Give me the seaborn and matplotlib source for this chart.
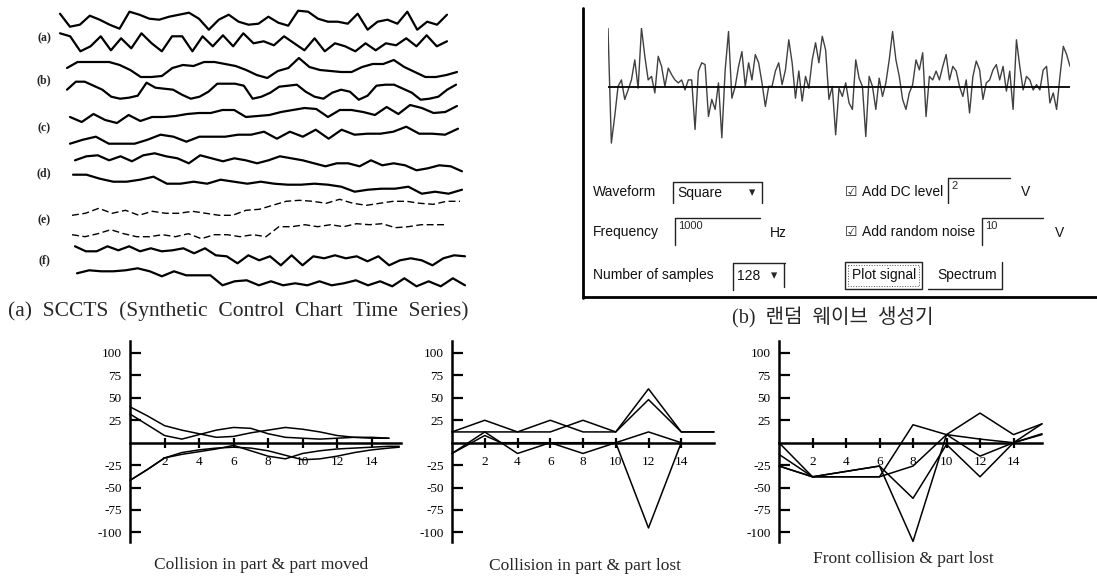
import numpy as np
import matplotlib
matplotlib.use("Agg")
import matplotlib.pyplot as plt
from matplotlib.patches import Rectangle
import seaborn as sns

# ---- data: (a) SCCTS sample series (two per class) ----
a1 = [18, 5, 7, 16, 12, 7, 3, 20, 17, 13, 12, 15, 17, 19, 13, 2, 12, 17, 10, 7,
      8, 15, 9, 6, 21, 20, 13, 10, 10, 8, 18, 2, 10, 12, 8, 20, 2, 10, 7, 17]
a2 = [20, 17, 2, 7, 17, 3, 15, 5, 20, 10, 2, 17, 17, 2, 17, 7, 18, 7, 20, 10,
      12, 8, 17, 10, 3, 15, 2, 10, 7, 2, 10, 3, 10, 8, 15, 7, 18, 7, 12]
b1 = [12, 18, 18, 18, 18, 15, 10, 3, 3, 4, 12, 15, 14, 18, 18, 16, 14, 10, 5, 2,
      9, 12, 22, 13, 10, 9, 8, 8, 13, 16, 16, 20, 13, 8, 3, 3, 5, 8]
b2 = [12, 20, 20, 16, 12, 5, 3, 4, 6, 19, 14, 13, 12, 7, 3, 5, 10, 18, 18, 18,
      16, 3, 5, 9, 15, 16, 17, 10, 5, 3, 9, 12, 10, 2, 6, 16, 17, 17, 13, 9,
      2, 3, 5, 12, 17]
c1 = [7, 2, 10, 4, 1, 9, 3, 7, 7, 8, 10, 11, 11, 14, 14, 7, 8, 9, 12, 14,
      16, 15, 7, 14, 14, 12, 9, 17, 10, 19, 16, 11, 12, 18]
c2 = [2, 6, 9, 2, 2, 2, 6, 11, 9, 4, 9, 9, 9, 11, 11, 14, 7, 14, 9, 16,
      7, 16, 11, 12, 12, 14, 19, 12, 12, 11, 17]
d1 = [13, 17, 18, 13, 17, 12, 18, 20, 17, 15, 10, 18, 15, 12, 15, 13, 10, 13, 17, 15,
      13, 10, 7, 10, 10, 7, 13, 8, 10, 8, 3, 5, 8, 7, 2]
d2 = [22, 22, 18, 15, 15, 17, 20, 13, 13, 15, 13, 17, 15, 13, 15, 13, 12, 12, 13, 12,
      10, 5, 7, 8, 8, 10, 3, 5, 3, 7]
e1 = [3, 5, 10, 5, 8, 3, 7, 5, 5, 7, 5, 3, 3, 8, 9, 13, 17, 18, 17, 15,
      19, 15, 13, 15, 17, 17, 15, 14, 17, 17]
e2 = [7, 5, 8, 12, 8, 5, 5, 7, 5, 8, 3, 7, 7, 5, 7, 5, 15, 15, 17, 15,
      17, 15, 18, 17, 18, 14, 15, 17, 17, 17]
f1 = [22, 17, 17, 22, 18, 22, 17, 20, 17, 18, 20, 15, 20, 13, 12, 5, 13, 8, 12, 3,
      13, 3, 12, 10, 13, 10, 12, 7, 12, 3, 8, 10, 8, 3, 10, 13, 12]
f2 = [15, 18, 17, 17, 18, 20, 17, 12, 17, 13, 13, 13, 3, 7, 8, 3, 7, 3, 5, 3,
      7, 3, 5, 8, 3, 7, 2, 10, 2, 7, 2, 10, 3]
class_labels = ["(a)", "(b)", "(c)", "(d)", "(e)", "(f)"]

# ---- data: (b) random wave generator signal ----
signal = [10.0, -9.5, -5.0, 0.1, 1.2, -2.1, -0.5, 1.2, 4.6, -0.2, 10.0, 5.2, 1.2, 1.8, -1.0,
          5.2, 3.5, 0.1, 3.2, 2.1, 1.2, 0.7, 1.2, -0.5, 1.2, 1.2, -7.2, 2.7, 4.1, 3.8,
          -5.0, -2.1, -3.8, 0.7, -8.6, 2.9, 9.4, -1.9, 0.1, 3.5, 6.0, 0.1, 4.1, 1.2, 5.5,
          4.1, 0.7, -3.3, 0.1, 0.1, 2.7, 4.1, 0.4, 2.9, 8.0, 4.1, -1.9, 2.7, -2.4, 1.8,
          -0.2, 4.6, 7.5, 4.1, 8.6, 6.3, -2.1, 0.1, -8.1, -0.2, -1.6, 0.7, -2.7, -3.8, 4.6,
          1.5, 0.1, -8.4, 1.8, 0.1, -3.8, 1.5, -1.6, 0.7, 4.6, 9.4, 4.6, 1.8, -2.1, -3.8,
          -1.0, 0.4, 4.6, 2.9, 5.8, -5.0, 1.8, 1.2, 2.7, 1.2, 3.5, 5.5, 1.2, 3.5, 2.7,
          0.1, -1.6, 1.2, -4.4, 1.8, 4.4, 2.9, -2.1, 0.7, 1.2, 2.9, 3.8, 1.2, 3.5, -0.7,
          2.7, -3.8, 8.0, 3.5, -0.5, 1.8, 1.2, -0.5, 0.4, -0.5, 2.9, 3.5, -2.7, -1.0, -3.8,
          1.8, 6.9, 5.5, 3.5]

# ---- data: bottom collision charts ----
moved_x_up = list(range(16))
moved_x_low = list(range(16)) + [15.6]
moved_s1 = [40, 30, 19, 14, 10, 6, 7, 11, 14, 17, 15, 12, 8, 6, 6, 5]
moved_s2 = [32, 20, 8, 4, 9, 14, 17, 16, 10, 6, 5, 4, 5, 6, 5, 5]
moved_s3 = [-42, -30, -17, -11, -8, -6, -5, -6, -9, -14, -19, -18, -15, -11, -8, -6, -5]
moved_s4 = [-42, -30, -17, -13, -10, -7, -3, -9, -15, -18, -12, -9, -7, -6, -5, -4, -4]

lost_x = [0, 2, 4, 6, 8, 10, 12, 14, 16]
lost_s1 = [12, 25, 12, 25, 12, 12, 60, 12, 12]
lost_s2 = [12, 12, 12, 12, 25, 12, 48, 12, 12]
lost_x3 = [0, 2, 4, 6, 8, 10, 12, 14]
lost_s3 = [-12, 12, -12, 0, -12, 0, 12, 0]
lost_x4 = [0, 2, 3, 10, 12, 14]
lost_s4 = [-12, 8, 0, 0, -95, 0]

front_x = [0, 2, 4, 6, 8, 10, 12, 14, 15.7]
front_s1 = [0, -38, -32, -26, -110, 9, -15, 0, 10]
front_s2 = [-13, -38, -38, -38, 20, 9, 33, 9, 21]
front_s3 = [-26, -38, -38, -38, -26, 9, 4, 0, 9]
front_s4 = [-26, -38, -32, -26, -62, -2, -38, 0, 21]

y_ticks = [-100, -75, -50, -25, 25, 50, 75, 100]
x_ticks = [2, 4, 6, 8, 10, 12, 14]

sns.set_theme(style="white")
plt.rcParams['font.family'] = ['Liberation Serif', 'Noto Sans CJK KR', 'DejaVu Sans']
plt.rcParams['axes.unicode_minus'] = False

W, H = 1097, 581
fig = plt.figure(figsize=(W / 100, H / 100), dpi=100)


def px_axes(x0, y0, x1, y1):
    return fig.add_axes([x0 / W, 1 - y1 / H, (x1 - x0) / W, (y1 - y0) / H])


bg = px_axes(0, 0, W, H)
bg.set_xlim(0, W)
bg.set_ylim(H, 0)
bg.axis('off')

# ---- panel (a) ----
panel_a = [(a1, 60, 447, 31.7, False), (a2, 60, 447, 53.3, False),
           (b1, 67, 457, 80.0, False), (b2, 67, 456, 101.7, False),
           (c1, 70, 457, 124.0, False), (c2, 70, 458, 145.7, False),
           (d1, 75, 462, 173.3, False), (d2, 73, 462, 196.7, False),
           (e1, 72, 460, 218.3, True), (e2, 72, 447, 241.7, True),
           (f1, 75, 465, 268.3, False), (f2, 77, 465, 288.3, False)]
for vals, x0, x1, base, dashed in panel_a:
    ax = px_axes(x0, base - 22, x1, base)
    sns.lineplot(x=np.arange(len(vals)), y=vals, ax=ax, color='black',
                 linewidth=1.0 if dashed else 1.6)
    if dashed:
        ax.lines[-1].set_linestyle((0, (5, 2.5)))
    ax.lines[-1].set_clip_on(False)
    ax.set_xlim(0, len(vals) - 1)
    ax.set_ylim(0, 22)
    ax.axis('off')

for lab, y in zip(class_labels, [38, 80, 128, 173, 220, 260]):
    bg.text(44, y, lab, ha='center', va='center', fontsize=8.5, fontweight='bold')
bg.text(238, 311, "(a)  SCCTS  (Synthetic  Control  Chart  Time  Series)",
        ha='center', va='center', fontsize=15.5)

# ---- panel (b) ----
ax_sig = px_axes(608, 28, 1070, 146)
sns.lineplot(x=np.arange(len(signal)), y=signal, ax=ax_sig, color='#404040', linewidth=1.0)
ax_sig.axhline(0, color='black', linewidth=1.3)
ax_sig.set_xlim(0, len(signal) - 1)
ax_sig.set_ylim(-10, 10)
ax_sig.axis('off')

bg.plot([583, 583], [8, 298], color='black', lw=2)
bg.plot([583, 1097], [297, 297], color='black', lw=2)

gui = dict(family='Liberation Sans', fontsize=10, va='center', color='#111111')
bg.text(593, 192, "Waveform", **gui)
bg.text(593, 232, "Frequency", **gui)
bg.text(593, 275, "Number of samples", **gui)
bg.text(677, 193, "Square", **gui)
bg.text(749, 193, "\u25BE", family='DejaVu Sans', fontsize=9, va='center')
bg.text(737, 276, "128", **gui)
bg.text(771, 276, "\u25BE", family='DejaVu Sans', fontsize=9, va='center')
bg.text(678, 226, "1000", family='Liberation Sans', fontsize=8, va='center')
bg.text(770, 233, "Hz", **gui)
bg.text(845, 192, "\u2611", family='DejaVu Sans', fontsize=10, va='center')
bg.text(845, 232, "\u2611", family='DejaVu Sans', fontsize=10, va='center')
bg.text(862, 192, "Add DC level", **gui)
bg.text(862, 232, "Add random noise", **gui)
bg.text(951, 186, "2", family='Liberation Sans', fontsize=8, va='center')
bg.text(985, 226, "10", family='Liberation Sans', fontsize=8, va='center')
bg.text(1021, 192, "V", **gui)
bg.text(1055, 233, "V", **gui)
bg.text(852, 275, "Plot signal", **gui)
bg.text(937, 275, "Spectrum", **gui)

field_lines = [([673, 673, 762], [203, 182, 182]), ([762, 762], [182, 203]),
               ([675, 675, 760], [245, 218, 218]),
               ([948, 948, 1010], [203, 178, 178]),
               ([982, 982, 1043], [245, 218, 218]),
               ([733, 733, 785], [290, 263, 263]), ([784, 784], [263, 287]),
               ([1002, 1002, 928], [262, 289, 289])]
for xs, ys in field_lines:
    bg.plot(xs, ys, color='#222222', lw=1.0)
bg.add_patch(Rectangle((845, 262), 77, 27, fill=False, lw=1.0, ec='#222222'))
bg.add_patch(Rectangle((848, 265), 71, 21, fill=False, lw=0.7, ec='#555555', ls=':'))

bg.text(833, 318, "(b)  랜덤  웨이브  생성기", ha='center', va='center', fontsize=14.5,
        family=['Liberation Serif', 'Noto Sans CJK KR'])


# ---- bottom charts ----
def collision_chart(x0, x1, xmax, lines, caption, cap_x, cap_y):
    ax = px_axes(x0, 341.3, x1, 542.3)
    for xs, ys in lines:
        sns.lineplot(x=xs, y=ys, ax=ax, color='black', linewidth=1.1, sort=False)
        ax.lines[-1].set_clip_on(False)
    ax.set_xlim(0, xmax)
    ax.set_ylim(-111, 113)
    ax.spines['top'].set_visible(False)
    ax.spines['right'].set_visible(False)
    ax.spines['bottom'].set_position(('data', 0))
    for s in ['left', 'bottom']:
        ax.spines[s].set_linewidth(1.8)
        ax.spines[s].set_color('black')
    ax.set_yticks(y_ticks)
    ax.set_xticks(x_ticks)
    ax.tick_params(axis='y', direction='in', length=8, width=1.6, labelsize=9.5, pad=6,
                   left=True, colors='black')
    ax.tick_params(axis='x', direction='inout', length=7, width=1.6, labelsize=9.5, pad=6,
                   bottom=True, colors='black')
    ax.set_xlabel("")
    ax.set_ylabel("")
    ax.patch.set_alpha(0)
    bg.text(cap_x, cap_y, caption, ha='center', va='center', fontsize=12.5)


collision_chart(130, 401, 15.7,
                [(moved_x_up, moved_s1), (moved_x_up, moved_s2),
                 (moved_x_low, moved_s3), (moved_x_low, moved_s4)],
                "Collision in part & part moved", 261, 565)
collision_chart(452, 714, 16,
                [(lost_x, lost_s1), (lost_x, lost_s2),
                 (lost_x3, lost_s3), (lost_x4, lost_s4)],
                "Collision in part & part lost", 585, 566)
collision_chart(779, 1042, 15.7,
                [(front_x, front_s1), (front_x, front_s2),
                 (front_x, front_s3), (front_x, front_s4)],
                "Front collision & part lost", 903, 559)

fig.savefig("out.png", dpi=100)
